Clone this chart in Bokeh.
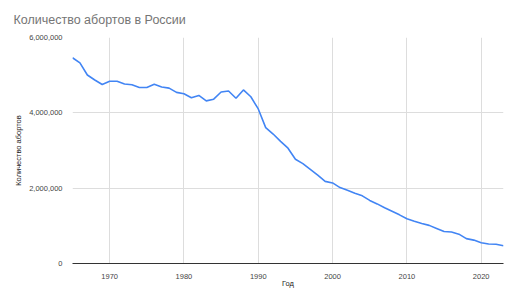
from bokeh.plotting import figure
from bokeh.models import Range1d, FixedTicker, NumeralTickFormatter
from bokeh.embed import file_html
from bokeh.resources import INLINE

title_text = "Количество абортов в России"
y_title = "Количество абортов"
x_title = "Год"

years = list(range(1965, 2024))
abortions_thousands = [
    5463, 5325, 5005, 4872, 4751, 4838, 4837, 4765, 4747, 4674,
    4671, 4757, 4686, 4656, 4544, 4506, 4400, 4462, 4318, 4362,
    4552, 4579, 4386, 4608, 4427, 4103, 3608, 3437, 3244, 3061,
    2766, 2652, 2499, 2346, 2181, 2139, 2015, 1945, 1865, 1797,
    1675, 1582, 1479, 1385, 1292, 1186, 1124, 1064, 1012, 930,
    848, 836, 779, 661, 621, 553, 518, 512, 470,
]
abortions = [v * 1000 for v in abortions_thousands]
x_ticks = [1970, 1980, 1990, 2000, 2010, 2020]
y_ticks = [0, 2000000, 4000000, 6000000]

FONT = "Liberation Sans"

p = figure(width=516, height=290, output_backend="svg", toolbar_location=None,
           x_range=Range1d(1965, 2023), y_range=Range1d(0, 6000000),
           min_border_left=72, min_border_right=13, min_border_top=37, min_border_bottom=27)
p.outline_line_color = None
p.background_fill_color = "white"
p.border_fill_color = "white"

p.line(years, abortions, line_color="#4285F4", line_width=1.6)

# title
p.title.text = title_text
p.title.text_font = FONT
p.title.text_font_size = "12.5px"
p.title.text_font_style = "normal"
p.title.text_color = "#757575"
p.title.align = "left"
p.title.offset = -59
p.title.standoff = 21

# axes
p.xaxis.ticker = FixedTicker(ticks=x_ticks)
p.yaxis.ticker = FixedTicker(ticks=y_ticks)
p.yaxis.formatter = NumeralTickFormatter(format="0,0")
for ax in (p.xaxis, p.yaxis):
    ax.major_tick_line_color = None
    ax.minor_tick_line_color = None
    ax.major_label_text_font = FONT
    ax.major_label_text_font_size = "7.5px"
    ax.major_label_text_color = "#444444"
    ax.axis_label_text_font = FONT
    ax.axis_label_text_font_size = "7.5px"
    ax.axis_label_text_font_style = "normal"
    ax.axis_label_text_color = "#222222"
p.yaxis.axis_line_color = None
p.yaxis.major_label_standoff = 4
p.yaxis.axis_label = y_title
p.yaxis.axis_label_standoff = 3
p.xaxis.axis_line_color = "#333333"
p.xaxis.major_label_standoff = 4
p.xaxis.axis_label = x_title
p.xaxis.axis_label_standoff = -3

p.xgrid.ticker = FixedTicker(ticks=x_ticks)
p.ygrid.ticker = FixedTicker(ticks=y_ticks)
p.xgrid.grid_line_color = "#dddddd"
p.ygrid.grid_line_color = "#dddddd"

open("out.html", "w").write(file_html(p, INLINE))
